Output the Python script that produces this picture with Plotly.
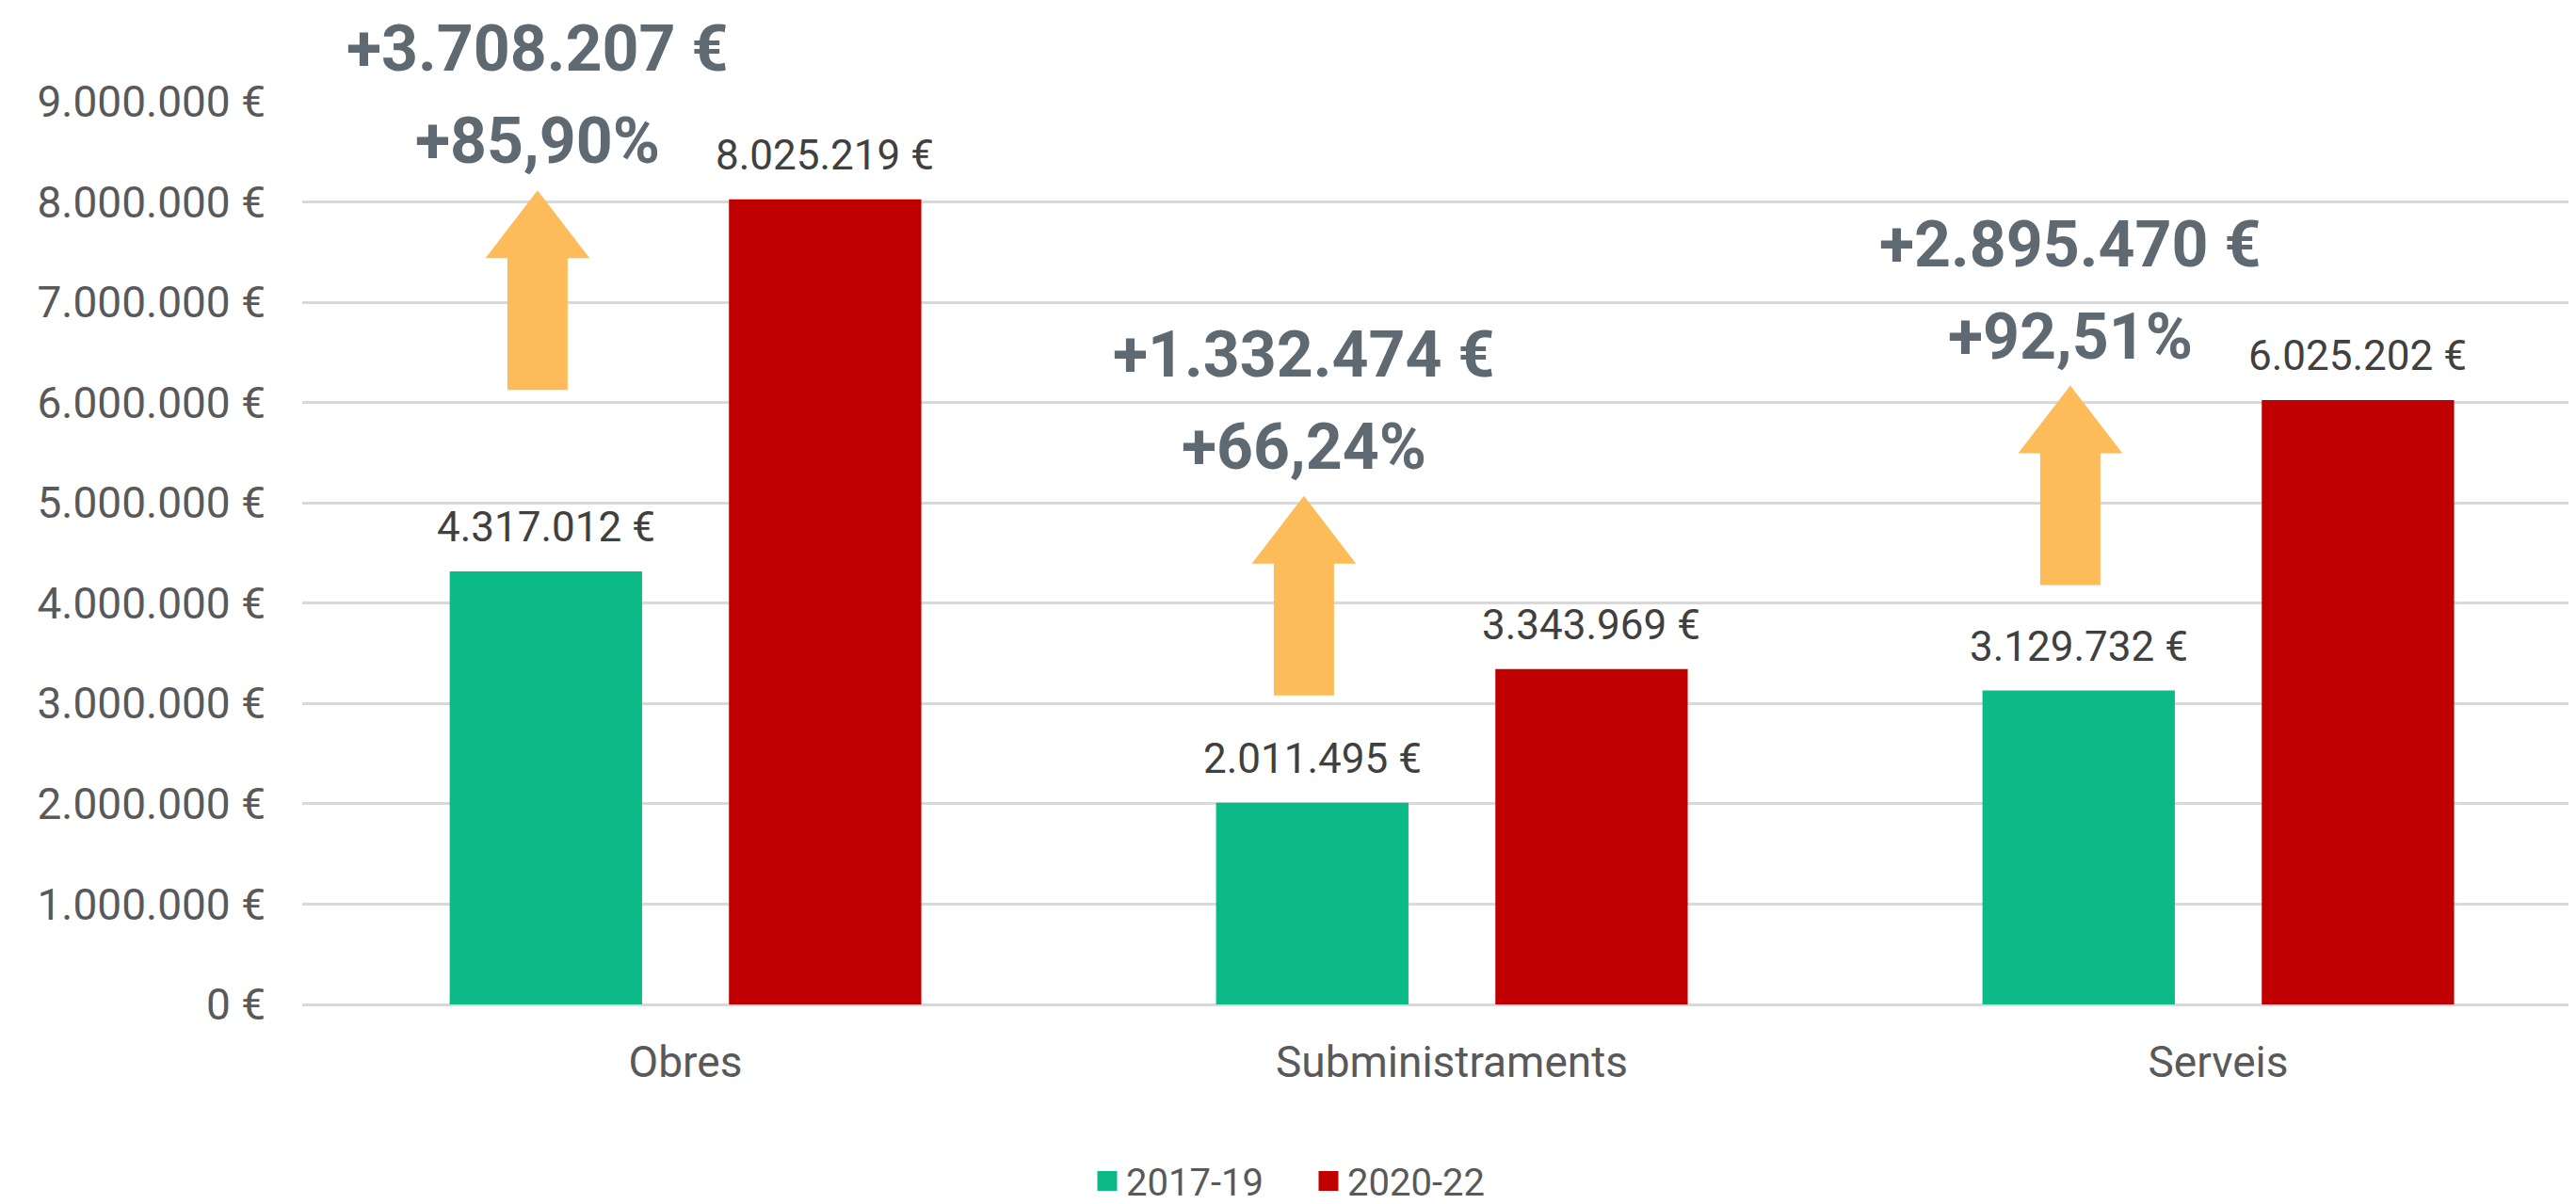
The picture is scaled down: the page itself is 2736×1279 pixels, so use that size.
import plotly.graph_objects as go

# ------------------------------------------------------------
# Data
# ------------------------------------------------------------
CATEGORIES = ["Obres", "Subministraments", "Serveis"]
PERIODS = ["2017-19", "2020-22"]
VALUES_2017_19 = [4317012, 2011495, 3129732]
VALUES_2020_22 = [8025219, 3343969, 6025202]

Y_TICKS = [0, 1000000, 2000000, 3000000, 4000000, 5000000,
           6000000, 7000000, 8000000, 9000000]

# ------------------------------------------------------------
# Style / layout constants
# ------------------------------------------------------------
COLORS = {
    "old": "#0bba87",
    "new": "#c00000",
    "arrow": "#fdbb59",
    "callout": "#5e6972",
    "tick": "#595959",
    "label": "#404040",
    "grid": "#d9d9d9",
}
FONT = "Roboto, sans-serif"

BAR_WIDTH = 0.251
BAR_OFFSETS = [-0.3076, 0.0568]
ARROW_X = -0.193          # offset from the category centre
ARROW_TIP = [8.115e6, 5.07e6, 6.17e6]
ARROW_LEN = 1.99e6
HEAD_LEN = 0.676e6
HEAD_HALF = 0.068
SHAFT_HALF = 0.0393


def eur(v):
    return f"{v:,.0f}".replace(",", ".") + " €"


def pct(v):
    return f"+{v:.2f}%".replace(".", ",")


fig = go.Figure()

for name, vals, color, off in zip(PERIODS, [VALUES_2017_19, VALUES_2020_22],
                                  [COLORS["old"], COLORS["new"]], BAR_OFFSETS):
    fig.add_trace(go.Bar(
        x=CATEGORIES,
        y=vals,
        name=name,
        width=BAR_WIDTH,
        offset=off,
        marker=dict(color=color, line=dict(width=0)),
        showlegend=False,
    ))
    # legend entry with a bigger square swatch
    fig.add_trace(go.Scatter(
        x=[None], y=[None], mode="markers", name=name,
        marker=dict(symbol="square", size=16, color=color,
                    line=dict(width=5, color=color)),
    ))

annotations = []
shapes = []
for i, cat in enumerate(CATEGORIES):
    old, new = VALUES_2017_19[i], VALUES_2020_22[i]
    # value labels above the bars
    for val, off in zip([old, new], BAR_OFFSETS):
        annotations.append(dict(
            x=i + off + BAR_WIDTH / 2, y=val, xref="x", yref="y",
            text=eur(val), showarrow=False, yanchor="middle", yshift=47,
            font=dict(family=FONT, size=44, color=COLORS["label"]),
        ))

    # increase callout
    cx = i + ARROW_X
    tip = ARROW_TIP[i]
    base = tip - ARROW_LEN
    neck = tip - HEAD_LEN
    path = (f"M {cx - SHAFT_HALF} {base} L {cx + SHAFT_HALF} {base} "
            f"L {cx + SHAFT_HALF} {neck} L {cx + HEAD_HALF} {neck} "
            f"L {cx} {tip} L {cx - HEAD_HALF} {neck} "
            f"L {cx - SHAFT_HALF} {neck} Z")
    shapes.append(dict(type="path", path=path, xref="x", yref="y",
                       fillcolor=COLORS["arrow"], line=dict(width=0),
                       layer="above"))
    annotations.append(dict(
        x=cx, y=tip, xref="x", yref="y", text=f"<b>{pct((new - old) / old * 100)}</b>",
        showarrow=False, yanchor="middle", yshift=52,
        font=dict(family=FONT, size=68, color=COLORS["callout"]),
    ))
    annotations.append(dict(
        x=cx, y=tip, xref="x", yref="y", text=f"<b>+{eur(new - old)}</b>",
        showarrow=False, yanchor="middle", yshift=150,
        font=dict(family=FONT, size=68, color=COLORS["callout"]),
    ))

fig.update_layout(
    width=2736,
    height=1279,
    paper_bgcolor="white",
    plot_bgcolor="white",
    barmode="overlay",
    font=dict(family=FONT, color=COLORS["tick"]),
    margin=dict(l=313, r=0, t=100, b=206),
    showlegend=True,
    legend=dict(
        orientation="h", x=0.4416, xanchor="center", y=-0.196, yanchor="middle",
        font=dict(family=FONT, size=40, color=COLORS["tick"]),
        itemsizing="trace",
        entrywidth=190,
    ),
    xaxis=dict(
        type="category",
        range=[-0.5, -0.5 + 2423 / 814],
        showgrid=False,
        zeroline=False,
        showline=False,
        ticks="",
        ticklabelstandoff=30,
        tickfont=dict(family=FONT, size=46, color=COLORS["tick"]),
    ),
    yaxis=dict(
        range=[0, 9000000],
        tickvals=Y_TICKS,
        ticktext=[eur(v) for v in Y_TICKS],
        showgrid=True,
        gridcolor=COLORS["grid"],
        gridwidth=3,
        zeroline=True,
        zerolinecolor=COLORS["grid"],
        zerolinewidth=3,
        showline=False,
        ticks="",
        ticklabelstandoff=38,
        tickfont=dict(family=FONT, size=46, color=COLORS["tick"]),
    ),
    annotations=annotations,
    shapes=shapes,
)

fig.write_html("out.html")
